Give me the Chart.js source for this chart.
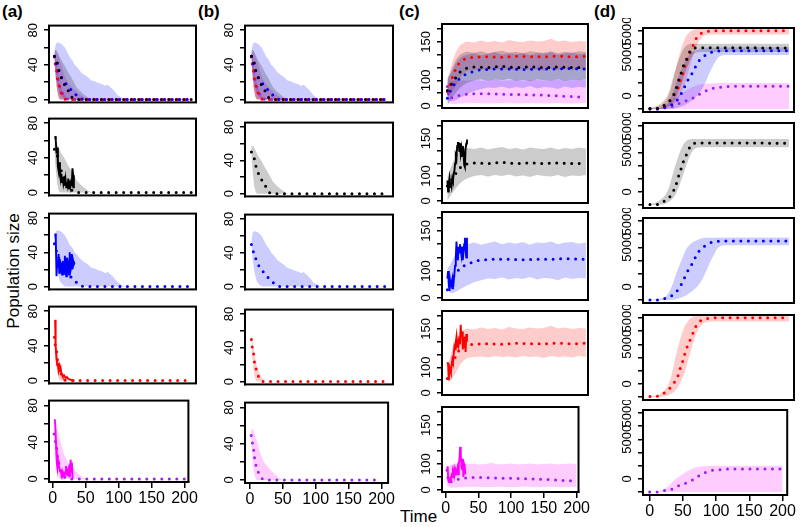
<!DOCTYPE html>
<html>
<head>
<meta charset="utf-8">
<script src="https://cdn.jsdelivr.net/npm/chart.js@4/dist/chart.umd.min.js"></script>
<style>
  html, body { margin: 0; padding: 0; background: #fff; }
  #fig { position: relative; width: 800px; height: 527px; overflow: hidden; font-family: "Liberation Sans", Arial, sans-serif; }
  #fig canvas { position: absolute; }
  .tag { position: absolute; font-weight: bold; font-size: 17px; }
  .ylab { position: absolute; font-size: 17px; transform: rotate(-90deg); transform-origin: center; white-space: nowrap; }
  .xlab { position: absolute; font-size: 17px; }
</style>
</head>
<body>
<div id="fig">
  <div class="tag" style="left:2px;top:2px">(a)</div>
  <div class="tag" style="left:198px;top:2px">(b)</div>
  <div class="tag" style="left:399px;top:2px">(c)</div>
  <div class="tag" style="left:594px;top:2px">(d)</div>
  <div class="ylab" style="left:-46px;top:261px;width:120px;text-align:center">Population size</div>
  <div class="xlab" style="left:400px;top:507px">Time</div>
</div>
<script>
/* ============================================================
   Population size vs time — 4 scenarios x (overlay + 4 species)
   ============================================================ */

// Data: [time, value] pairs

// ── (a)/(b) model runs: envelope + mean ─────────────────────
const AB_BLACK_LO   = [[2,45],[4,25],[6,10],[8,3],[10,0],[200,0]];
const AB_BLACK_UP   = [[2,58],[5,57],[8,52],[12,45],[17,39],[22,31],[26,26],[30,20],[34,14],[40,9],[46,5],[51,2],[56,0],[200,0]];
const AB_BLACK_MEAN = [[2,50],[6,43],[8,35],[11,27],[16,18],[22,10],[29,1],[35,0],[200,0]];

const AB_BLUE_LO   = [[2,50],[4,30],[7,15],[10,6],[14,2],[18,0],[200,0]];
const AB_BLUE_UP   = [[2,55],[4,64],[7,66],[12,64],[17,60],[21,54],[24,49],[28,45],[31,40],[35,37],[41,31],[46,28],[50,26],[55,22],[60,21],[65,19],[70,18],[75,16],[79,17],[83,14],[86,12],[90,8],[93,5],[97,3],[101,1],[105,0],[200,0]];
const AB_BLUE_MEAN = [[2,50],[5,41],[8,34],[12,26],[18,19],[24,13],[31,7],[38,2],[45,0],[200,0]];

const AB_RED_LO   = [[2,45],[3,30],[5,15],[7,5],[9,1],[11,0],[200,0]];
const AB_RED_UP   = [[2,52],[4,46],[6,36],[8,26],[10,18],[13,11],[16,6],[19,3],[22,1],[25,0],[200,0]];
const AB_RED_MEAN = [[2,50],[3,42],[5,35],[6,26],[8,18],[12,7],[19,0],[200,0]];

const AB_MAG_LO   = [[2,44],[4,24],[6,10],[8,3],[10,0],[200,0]];
const AB_MAG_UP   = [[2,56],[5,56],[8,50],[12,40],[17,27],[22,19],[28,14],[34,9],[40,5],[45,2],[49,0],[200,0]];
const AB_MAG_MEAN = [[2,49],[4,40],[6,32],[7,25],[9,17],[12,10],[18,2],[25,0],[200,0]];

// ── (a) observed series ───────────────────────────────────────
const A_BLACK_OBS = [[3,65],[4,60],[5,45],[6,52],[7,30],[8,25],[9,35],[10,20],[11,15],[12,22],[13,12],[14,18],[15,10],[16,14],[17,8],[18,15],[19,6],[20,12],[21,8],[22,16],[23,5],[24,14],[25,7],[26,12],[27,10],[28,28],[29,20],[30,5]];
const A_BLUE_OBS  = [[3,62],[4,55],[5,12],[6,30],[7,22],[8,38],[9,16],[10,32],[11,18],[12,28],[13,14],[14,30],[15,20],[16,15],[17,36],[18,22],[19,12],[20,34],[21,18],[22,24],[23,14],[24,40],[25,18],[26,22],[27,38],[28,20],[29,30],[30,26],[31,28]];
const A_RED_OBS   = [[3,70],[3.5,55],[4,40],[5,25],[6,18],[7,20],[8,12],[9,16],[10,10],[11,14],[12,8],[13,7],[14,5],[16,6],[18,3],[20,4],[22,2],[25,1],[28,0],[31,0]];
const A_MAG_OBS   = [[3,65],[4,55],[5,35],[6,18],[7,12],[8,20],[9,15],[10,12],[11,8],[12,10],[13,5],[14,8],[15,4],[16,6],[17,3],[18,5],[19,8],[20,14],[21,6],[22,4],[23,10],[24,12],[25,3],[26,5],[27,21],[28,8],[29,18],[30,0]];

// ── (c) model runs ────────────────────────────────────────────
const C_BLACK_LO   = [[2,0],[5,8],[10,18],[15,27],[20,35],[25,41],[30,45],[40,50],[50,52],[60,49],[70,52],[80,50],[90,53],[100,49],[110,51],[120,48],[130,52],[140,50],[150,49],[160,52],[170,48],[180,51],[190,50],[200,52]];
const C_BLACK_UP   = [[2,50],[5,60],[10,78],[15,92],[20,100],[25,104],[30,106],[40,104],[50,107],[60,103],[70,106],[80,108],[90,104],[100,106],[110,103],[120,107],[130,105],[140,104],[150,107],[160,103],[170,106],[180,104],[190,107],[200,105]];
const C_BLACK_MEAN = [[2,30],[6,38],[10,47],[15,57],[20,66],[25,71],[30,74],[40,76],[60,75],[80,77],[100,75],[120,76],[140,75],[160,76],[180,75],[200,75]];

const C_BLUE_LO   = [[2,15],[5,10],[10,9],[15,12],[20,16],[30,23],[40,29],[50,33],[60,36],[70,35],[80,38],[90,34],[100,37],[110,35],[120,39],[130,34],[140,37],[150,36],[160,33],[170,38],[180,35],[190,37],[200,36]];
const C_BLUE_UP   = [[2,55],[5,60],[10,72],[15,85],[20,93],[25,98],[30,100],[40,103],[50,99],[60,102],[70,105],[80,100],[90,103],[100,101],[110,104],[120,99],[130,103],[140,102],[150,105],[160,100],[170,103],[180,104],[190,101],[200,103]];
const C_BLUE_MEAN = [[2,15],[6,28],[10,38],[15,48],[20,54],[26,60],[33,64],[43,69],[55,71],[70,72],[90,72],[110,71],[130,72],[150,72],[170,73],[200,72]];

const C_RED_LO   = [[2,25],[5,22],[10,30],[15,42],[20,55],[25,63],[30,68],[40,70],[50,71],[60,69],[70,72],[80,70],[90,71],[100,69],[110,72],[120,70],[130,71],[140,68],[150,72],[160,70],[170,71],[180,69],[190,72],[200,70]];
const C_RED_UP   = [[2,54],[5,65],[10,90],[15,108],[20,118],[25,123],[30,126],[40,124],[50,128],[60,125],[70,127],[80,124],[90,129],[100,126],[110,125],[120,128],[130,126],[140,127],[150,131],[160,126],[170,128],[180,125],[190,127],[200,126]];
const C_RED_MEAN = [[2,28],[5,38],[8,50],[10,60],[14,72],[18,82],[22,88],[30,93],[40,95],[60,96],[80,95],[100,97],[120,96],[140,96],[160,97],[180,96],[200,97]];

const C_MAG_LO   = [[2,8],[5,5],[10,4],[20,5],[40,6],[60,5],[80,6],[100,5],[120,6],[140,5],[160,6],[180,5],[200,6]];
const C_MAG_UP   = [[2,45],[5,47],[10,49],[20,50],[30,49],[40,51],[50,49],[60,50],[70,52],[80,49],[90,50],[100,51],[110,49],[120,50],[130,51],[140,49],[150,50],[160,51],[170,49],[180,50],[190,51],[200,50]];
const C_MAG_MEAN = [[2,38],[5,14],[10,17],[20,21],[30,23],[50,24],[80,23],[110,22],[140,21],[170,19],[200,17]];

// ── (c) observed series ───────────────────────────────────────
const C_BLACK_OBS = [[2,41],[3,19],[4,35],[5,45],[6,28],[7,38],[8,30],[9,45],[10,40],[11,55],[12,60],[13,75],[14,90],[15,85],[16,110],[17,116],[18,116],[19,100],[20,116],[21,95],[22,105],[23,90],[24,110],[25,100],[26,72],[27,68],[28,105],[29,115],[30,123]];
const C_BLUE_OBS  = [[2,36],[3,50],[4,25],[5,13],[6,30],[7,20],[8,28],[9,18],[10,35],[11,30],[12,45],[13,60],[14,75],[15,105],[16,80],[17,70],[18,95],[19,85],[20,100],[21,90],[22,80],[23,95],[24,70],[25,85],[26,100],[27,112],[28,90],[29,75],[30,112]];
const C_RED_OBS   = [[2,60],[3,55],[4,25],[5,50],[6,45],[7,40],[8,55],[9,65],[10,60],[11,75],[12,90],[13,85],[14,100],[15,110],[16,90],[17,105],[18,95],[19,110],[20,95],[21,133],[22,110],[23,120],[24,85],[25,100],[26,90],[27,110],[28,80],[29,115],[30,100]];
const C_MAG_OBS   = [[2,45],[3,40],[4,18],[5,15],[6,16],[7,22],[8,20],[9,28],[10,25],[11,35],[12,30],[13,40],[14,32],[15,38],[16,30],[17,35],[18,42],[19,30],[20,50],[21,60],[22,83],[23,70],[24,45],[25,40],[26,60],[27,25],[28,50],[29,45],[30,30]];

// ── (d) model runs ────────────────────────────────────────────
const D_BLACK_LO   = [[0,-1667],[10,-1667],[25,-1400],[35,-600],[40,300],[45,1500],[50,2800],[55,4000],[60,5000],[68,5600],[80,5650],[200,5650]];
const D_BLACK_UP   = [[0,-1500],[5,-1450],[15,-1000],[22,-400],[28,700],[32,2000],[37,3500],[42,4800],[48,6000],[55,6600],[65,6700],[200,6700]];
const D_BLACK_MEAN = [[0,-1600],[12,-1600],[22,-1100],[30,-480],[35,350],[39,1300],[41,1960],[46,3250],[49,4100],[54,4950],[58,5800],[65,6150],[80,6200],[200,6150]];

const D_BLUE_LO   = [[0,-1700],[30,-1667],[48,-1250],[60,-600],[72,470],[80,1800],[86,3040],[92,4100],[98,4950],[110,5250],[200,5250]];
const D_BLUE_UP   = [[0,-1600],[15,-1500],[25,-1000],[32,200],[38,1750],[45,3300],[52,4750],[58,5400],[65,5800],[80,6200],[200,6250]];
const D_BLUE_MEAN = [[0,-1667],[12,-1667],[22,-1450],[33,-1030],[42,-160],[49,1030],[54,1960],[60,2830],[65,3680],[70,4450],[77,5050],[85,5500],[95,5750],[110,5800],[200,5800]];

const D_RED_LO   = [[0,-1667],[15,-1667],[28,-1400],[38,-700],[45,400],[50,1500],[55,3000],[60,4600],[65,6000],[72,7200],[80,7800],[95,7900],[200,7900]];
const D_RED_UP   = [[0,-1550],[10,-1450],[20,-900],[27,0],[32,1500],[37,3500],[42,5200],[48,6900],[55,8000],[65,8600],[80,8700],[200,8700]];
const D_RED_MEAN = [[0,-1600],[12,-1550],[22,-1070],[30,-430],[36,300],[41,1150],[44,2130],[48,3080],[51,4070],[55,5000],[60,6000],[64,6900],[68,7600],[75,8100],[85,8300],[100,8370],[200,8370]];

const D_MAG_LO   = [[0,-1667],[200,-1667]];
const D_MAG_UP   = [[0,-1667],[12,-1600],[24,-1200],[38,-130],[52,740],[67,1370],[82,1580],[100,1670],[200,1670]];
const D_MAG_MEAN = [[0,-1667],[12,-1667],[22,-1500],[33,-1330],[43,-900],[54,-550],[65,-130],[74,380],[84,800],[94,1070],[105,1150],[120,1250],[200,1250]];

// ── Axis ticks ────────────────────────────────────────────────
const X_TICKS = [0, 50, 100, 150, 200];
const AB_Y_TICKS  = [0, 20, 40, 60, 80];
const AB_Y_LABELS = ['0', '', '40', '', '80'];
const C_Y_TICKS   = [0, 25, 50, 75, 100, 125, 150];
const C_Y_LABELS  = ['0', '', '100', '', '', '150', ''];
const D_Y_TICKS   = [-1666.7, 0, 1666.7, 3333.3, 5000, 6666.7, 8333.3];
const D_Y_LABELS  = ['', '0', '', '', '5000', '', '5000'];

// ── Styles & layout ───────────────────────────────────────────
const FONT = '"Liberation Sans", Arial, sans-serif';
const SPECIES = ['black', 'blue', 'red', 'magenta'];
const STYLE = {
  black:   { band: 'rgba(0,0,0,0.2)',     mean: '#000000', obs: '#000000' },
  blue:    { band: 'rgba(0,0,255,0.2)',   mean: '#0000FF', obs: '#0000FF' },
  red:     { band: 'rgba(255,0,0,0.2)',   mean: '#FF0000', obs: '#FF0000' },
  magenta: { band: 'rgba(255,0,255,0.2)', mean: '#A020F0', obs: '#FF00FF' }
};

const MODEL_AB = {
  black:   { lo: AB_BLACK_LO, up: AB_BLACK_UP, mean: AB_BLACK_MEAN },
  blue:    { lo: AB_BLUE_LO,  up: AB_BLUE_UP,  mean: AB_BLUE_MEAN },
  red:     { lo: AB_RED_LO,   up: AB_RED_UP,   mean: AB_RED_MEAN },
  magenta: { lo: AB_MAG_LO,   up: AB_MAG_UP,   mean: AB_MAG_MEAN }
};
const MODEL_C = {
  black:   { lo: C_BLACK_LO, up: C_BLACK_UP, mean: C_BLACK_MEAN },
  blue:    { lo: C_BLUE_LO,  up: C_BLUE_UP,  mean: C_BLUE_MEAN },
  red:     { lo: C_RED_LO,   up: C_RED_UP,   mean: C_RED_MEAN },
  magenta: { lo: C_MAG_LO,   up: C_MAG_UP,   mean: C_MAG_MEAN }
};
const MODEL_D = {
  black:   { lo: D_BLACK_LO, up: D_BLACK_UP, mean: D_BLACK_MEAN },
  blue:    { lo: D_BLUE_LO,  up: D_BLUE_UP,  mean: D_BLUE_MEAN },
  red:     { lo: D_RED_LO,   up: D_RED_UP,   mean: D_RED_MEAN },
  magenta: { lo: D_MAG_LO,   up: D_MAG_UP,   mean: D_MAG_MEAN }
};
const OBS_A = { black: A_BLACK_OBS, blue: A_BLUE_OBS, red: A_RED_OBS, magenta: A_MAG_OBS };
const OBS_C = { black: C_BLACK_OBS, blue: C_BLUE_OBS, red: C_RED_OBS, magenta: C_MAG_OBS };

// rows = [top, bottom] of each panel frame, page pixels
const COLUMNS = [
  { left: 49,  width: 147, rows: [[24,108],[117,201],[212,295],[305,389],[399,482]], xMin: -5.8, xMax: 205.8,
    model: MODEL_AB, obs: OBS_A, yMin: -3.3, yMax: 85.3, yTicks: AB_Y_TICKS, yLabels: AB_Y_LABELS, labPad: 3.8, smooth: false },
  { left: 245, width: 148, rows: [[24,108],[121,202],[213,295],[308,390],[401,483]], xMin: -7.4, xMax: 210,
    model: MODEL_AB, obs: null, yMin: -3.3, yMax: 85.3, yTicks: AB_Y_TICKS, yLabels: AB_Y_LABELS, labPad: 3.8, smooth: false },
  { left: 442, width: 146, rows: [[24,110],[121,205],[212,302],[311,397],[407,492]], xMin: -5.7, xMax: 202.9,
    model: MODEL_C, obs: OBS_C, yMin: -4, yMax: 160, yTicks: C_Y_TICKS, yLabels: C_Y_LABELS, labPad: 0.2, smooth: false },
  { left: 643, width: 151, rows: [[28,112],[123,208],[218,303],[315,400],[410,495]], xMin: -10, xMax: 207,
    model: MODEL_D, obs: null, yMin: -2051, yMax: 8718, yTicks: D_Y_TICKS, yLabels: D_Y_LABELS, labPad: -3.4, smooth: true }
];

const Y_W = 34, PAD_T = 10, PAD_B = 6, PAD_R = 3, X_H = 30;

// ── Frame around the plotting region (R's box()) ─────────────
const boxPlugin = {
  id: 'box',
  afterDraw(chart) {
    const a = chart.chartArea, ctx = chart.ctx;
    ctx.save();
    ctx.strokeStyle = '#000';
    ctx.lineWidth = 2;
    ctx.strokeRect(a.left, a.top, a.right - a.left, a.bottom - a.top);
    ctx.restore();
  }
};

// ── Datasets ─────────────────────────────────────────────────
function modelSets(col, sp) {
  const m = col.model[sp], st = STYLE[sp];
  const mode = col.smooth ? 'monotone' : 'default';
  return {
    bands: [
      { data: m.lo, borderWidth: 0, pointRadius: 0, fill: false, cubicInterpolationMode: mode },
      { data: m.up, borderWidth: 0, pointRadius: 0, fill: '-1', backgroundColor: st.band, cubicInterpolationMode: mode }
    ],
    mean: { data: m.mean, borderColor: st.mean, borderWidth: 3, borderDash: [0, 7.5], borderCapStyle: 'round',
            pointRadius: 0, fill: false, cubicInterpolationMode: 'monotone' }
  };
}

function panelDatasets(col, row) {
  const lines = [], bands = [];
  const list = row === 0 ? SPECIES : [SPECIES[row - 1]];
  list.forEach(sp => {
    const s = modelSets(col, sp);
    bands.push(...s.bands);
    lines.push(s.mean);
    if (row > 0 && col.obs) {
      lines.unshift({ data: col.obs[sp], borderColor: STYLE[sp].obs, borderWidth: 1.9, pointRadius: 0, fill: false });
    }
  });
  // lines first so they draw on top; each fill refers to its own lower edge
  return lines.concat(bands);
}

// ── Build one panel ──────────────────────────────────────────
function makePanel(col, row) {
  const [top, bottom] = col.rows[row];
  const last = row === 4;
  const canvas = document.createElement('canvas');
  const w = col.width + Y_W + PAD_R;
  const h = bottom - top + PAD_T + (last ? X_H : PAD_B);
  canvas.width = w;
  canvas.height = h;
  canvas.style.left = (col.left - Y_W) + 'px';
  canvas.style.top = (top - PAD_T) + 'px';
  canvas.style.width = w + 'px';
  canvas.style.height = h + 'px';
  document.getElementById('fig').appendChild(canvas);

  new Chart(canvas, {
    type: 'line',
    data: { datasets: panelDatasets(col, row) },
    options: {
      responsive: false,
      animation: false,
      devicePixelRatio: 1,
      layout: { padding: { top: PAD_T, right: PAD_R, bottom: last ? 0 : PAD_B, left: 0 } },
      elements: { line: { tension: 0 }, point: { radius: 0 } },
      plugins: {
        legend: { display: false },
        tooltip: { enabled: false },
        filler: { drawTime: 'beforeDatasetsDraw' }
      },
      scales: {
        x: {
          type: 'linear',
          min: col.xMin,
          max: col.xMax,
          display: last,
          afterBuildTicks: s => { s.ticks = X_TICKS.map(v => ({ value: v })); },
          afterFit: s => { s.height = last ? X_H : 0; },
          border: { color: '#000', width: 1.5 },
          grid: { drawOnChartArea: false, color: '#000', lineWidth: 1.5, tickLength: 6 },
          ticks: { color: '#000', autoSkip: false, maxRotation: 0, padding: 1,
                   font: { family: FONT, size: 16 }, callback: v => String(v) }
        },
        y: {
          type: 'linear',
          min: col.yMin,
          max: col.yMax,
          afterBuildTicks: s => { s.ticks = col.yTicks.map(v => ({ value: v })); },
          afterFit: s => { s.width = Y_W; },
          border: { color: '#000', width: 1.5 },
          grid: { drawOnChartArea: false, color: '#000', lineWidth: 1.5, tickLength: 5 },
          ticks: { color: '#000', autoSkip: false, minRotation: 90, maxRotation: 90, crossAlign: 'center',
                   padding: col.labPad, font: { family: FONT, size: 13 },
                   callback: (v, i) => col.yLabels[i] }
        }
      }
    },
    plugins: [boxPlugin]
  });
}

COLUMNS.forEach(col => col.rows.forEach((r, i) => makePanel(col, i)));
</script>
</body>
</html>
